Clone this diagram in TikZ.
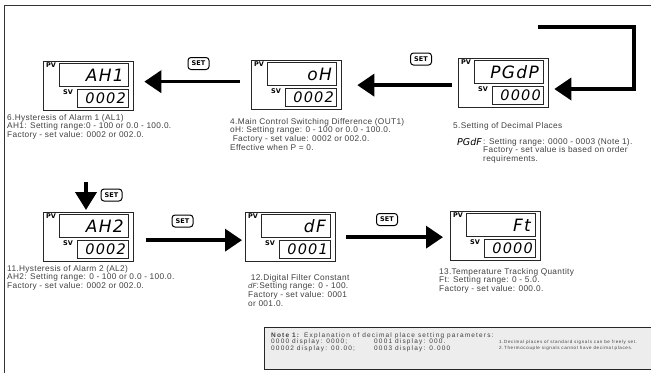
\documentclass[tikz,border=0pt]{standalone}
\usepackage{fontspec}
\setmainfont{Liberation Sans}
\newfontfamily\descfont[LetterSpace=4]{Liberation Sans}
\newfontfamily\notefont[LetterSpace=18]{Liberation Sans}
\newfontfamily\tinynotefont[LetterSpace=14]{Liberation Sans}
\newfontfamily\segfont[LetterSpace=8]{DejaVu Sans}
\newfontfamily\segtight{DejaVu Sans}
\usetikzlibrary{arrows.meta}
\tikzset{
  outerbox/.style={draw=black!85, line width=1.3pt, minimum width=90pt, minimum height=49pt, inner sep=0pt, anchor=north west},
  win/.style={draw=black!85, line width=1pt, inner sep=0pt, anchor=north west},
  seg/.style={font=\segfont\itshape\fontsize{17}{17}\selectfont, anchor=east, inner sep=0pt},
  segsv/.style={font=\segfont\itshape\fontsize{14.5}{14.5}\selectfont, anchor=east, inner sep=0pt},
  lbl/.style={font=\segtight\bfseries\fontsize{6.5}{6.5}\selectfont, inner sep=0pt},
  desc/.style={anchor=north west, align=left, inner sep=0pt, text=black!75, font=\descfont\fontsize{8.3}{8.7}\selectfont},
  notetxt/.style={anchor=north west, align=left, inner sep=0pt, text=black!75, font=\notefont\fontsize{6.5}{5.8}\selectfont},
  smallnote/.style={anchor=north west, align=left, inner sep=0pt, text=black!75, font=\tinynotefont\fontsize{4.5}{6}\selectfont},
  setbtn/.style={draw, rounded corners=3pt, line width=1pt, minimum width=21pt, minimum height=12pt, inner sep=0pt, font=\segtight\bfseries\fontsize{6.5}{6.5}\selectfont},
  bigarrow/.style={line width=3.6pt, -{Triangle[length=17pt,width=22pt]}},
  frameline/.style={line width=1pt, draw=black!80},
}
\newcommand\dispunit[5]{%
  \node[outerbox] (#1) at (#2,#3) {};
  \node[win, minimum width=69pt, minimum height=23pt] (#1pv) at (#2+16,#3+2) {};
  \node[win, minimum width=51pt, minimum height=18pt] (#1sv) at (#2+34,#3+28) {};
  \node[seg] (#1pvt) at ([xshift=-5pt]#1pv.east) {#4};
  \node[segsv] (#1svt) at ([xshift=-3pt]#1sv.east) {#5};
  \node[lbl, anchor=north west] (#1pvl) at (#2+3,#3+2) {PV};
  \node[lbl] (#1svl) at (#2+25,#3+31) {SV};
}
\begin{document}
\begin{tikzpicture}[x=1pt,y=-1pt]
\useasboundingbox (0,0) rectangle (651,373);
\draw[frameline] (4,373) -- (4,5) -- (651,5);

% displays
\dispunit{ah1}{43}{61}{AH1}{0002}
\dispunit{oh}{251}{60}{oH}{0002}
\dispunit{pgdp}{458}{58}{PGdP}{0000}
\dispunit{ah2}{43}{212}{AH2}{0002}
\dispunit{df}{245}{212}{dF}{0001}
\dispunit{ft}{450}{211}{Ft}{0000}

% SET buttons
\node[setbtn] (set1) at (198.5,63.5) {SET};
\node[setbtn] (set2) at (421,59) {SET};
\node[setbtn] (set3) at (111.5,195) {SET};
\node[setbtn] (set4) at (182.5,221) {SET};
\node[setbtn] (set5) at (387,219.5) {SET};

% arrows
\coordinate (a1s) at ([yshift=3.5pt]oh.west);
\draw[bigarrow, shorten <=11pt, shorten >=10pt] (a1s) -- (a1s -| ah1.east);
\coordinate (a2s) at ([yshift=-2pt]pgdp.west);
\draw[bigarrow, shorten <=6pt, shorten >=15pt] (a2s) -- (a2s -| oh.east);
\coordinate (rt) at (538,27);
\coordinate (rb) at (634,89);
\draw[bigarrow, line join=miter, shorten >=5pt] (rt) -- (rt -| rb) -- (rb) -- (rb -| pgdp.east);
\coordinate (dtop) at (86,182);
\draw[line width=4pt, -{Triangle[length=18pt,width=21pt]}, shorten >=2pt] (dtop) -- (dtop |- ah2.north);
\coordinate (a4s) at ([yshift=-3pt]ah2.east);
\draw[bigarrow, shorten <=12pt, shorten >=3pt] (a4s) -- (a4s -| df.west);
\coordinate (a5s) at (df.east);
\draw[bigarrow, shorten <=10pt, shorten >=7pt] (a5s) -- (a5s -| ft.west);

% descriptions
\node[desc] (d1) at (7,114) {6.Hysteresis of Alarm 1 (AL1)\\AH1: Setting range:0 - 100 or 0.0 - 100.0.\\Factory - set value: 0002 or 002.0.};
\node[desc] (d2) at (230,118) {4.Main Control Switching Difference (OUT1)\\oH: Setting range: 0 - 100 or 0.0 - 100.0.\\\ Factory - set value: 0002 or 002.0.\\Effective when P = 0.};
\node[desc] (d3) at (453,122) {5.Setting of Decimal Places};
\node[anchor=west, inner sep=0pt, font=\segtight\itshape\fontsize{9.5}{9.5}\selectfont] (pgdf) at (457,142) {PGdF};
\node[desc] (d3b) at (483,138) {: Setting range: 0000 - 0003 (Note 1).\\Factory - set value is based on order\\requirements.};
\node[desc] (d4) at (7,265) {11.Hysteresis of Alarm 2 (AL2)\\AH2: Setting range: 0 - 100 or 0.0 - 100.0.\\Factory - set value: 0002 or 002.0.};
\node[desc] (d5) at (248,274) {\ 12.Digital Filter Constant\\{\segtight\itshape\fontsize{7}{7}\selectfont dF}:Setting range: 0 - 100.\\Factory - set value: 0001\\or 001.0.};
\node[desc] (d6) at (439,268) {13.Temperature Tracking Quantity\\Ft: Setting range: 0 - 5.0.\\Factory - set value: 000.0.};

% note box
\node[draw=black!85, line width=1.2pt, fill=black!7, minimum width=388pt, minimum height=42pt, anchor=north west, inner sep=0pt] (note) at (264,327) {};
\node[notetxt] (n1) at (271,333) {\textbf{Note 1:} Explanation of decimal place setting parameters:};
\node[notetxt] (n2) at (271,338.8) {0000 display: 0000;\\00002 display: 00.00;};
\node[notetxt] (n3) at (374,338.8) {0001 display: 000.\\0003 display: 0.000};
\node[smallnote] (n4) at (499,340) {1.Decimal places of standard signals can be freely set.\\2.Thermocouple signals cannot have decimal places.};
\end{tikzpicture}
\end{document}
